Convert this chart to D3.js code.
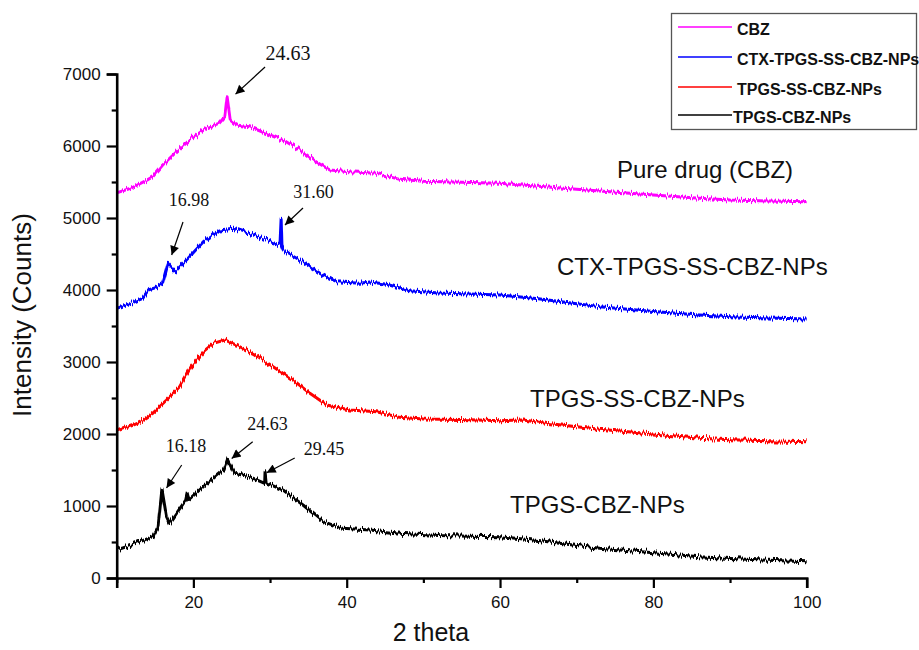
<!DOCTYPE html>
<html><head><meta charset="utf-8">
<script src="https://cdn.jsdelivr.net/npm/d3@7"></script>
<style>
body{margin:0;background:#fff;}
svg{display:block;}
</style></head>
<body>
<svg id="chart" width="919" height="650"></svg>
<script>
// ---- data ----
const cbzTheta  = [10,12,14,14.7,16,17.8,19.5,21.7,23.4,24.1,24.4,24.8,25.6,27.3,30,32.1,33.9,36,37.8,40.4,43.9,46.9,50,55,60,65,70,73,80,86,90,95,100];
const cbzCounts = [5350,5420,5530,5574,5736,5920,6083,6250,6319,6407,6685,6361,6292,6268,6153,6060,5944,5782,5667,5643,5620,5537,5510,5495,5481,5440,5400,5375,5320,5273,5250,5235,5226];

const ctxTheta  = [10,12,13.4,14.1,15,16,16.4,16.7,17.6,18.5,19.5,21.3,23.4,25.2,27.3,30,31.3,31.45,31.55,31.7,31.9,33.9,36.5,38.7,41.7,43,45.2,48.2,52,56,60,65,70,73,80,86,90,95,100];
const ctxCounts = [3745,3820,3884,4000,4030,4093,4250,4370,4254,4350,4462,4671,4833,4857,4787,4671,4625,4981,4600,4560,4532,4417,4231,4115,4093,4110,4080,3990,3960,3945,3931,3880,3810,3769,3700,3653,3630,3610,3597];

const ssTheta   = [10,12,13.4,14.7,16.5,18.2,19.7,21.3,22.6,24.1,25.6,27.8,30.4,33,35.2,37.4,40.4,43.9,46.9,50,55,60,63,66,70,73,80,86,90,95,100];
const ssCounts  = [2056,2130,2194,2287,2472,2657,2935,3143,3259,3306,3236,3121,2935,2750,2565,2403,2333,2310,2231,2210,2200,2185,2195,2150,2100,2065,2000,1940,1920,1905,1893];

const npTheta   = [10,12,14.7,15.4,15.9,16.5,16.9,17.8,19.0,19.2,19.4,21.3,23.4,24.0,24.5,25.4,27.3,29.3,29.35,29.5,31.7,34.3,36.9,39.5,43,47,52,56,60,65,70,73,80,86,90,95,100];
const npCounts  = [389,460,574,713,1231,851,759,898,1083,1180,1090,1268,1454,1500,1648,1454,1407,1315,1476,1320,1222,1014,782,690,667,620,590,580,574,520,450,412,350,296,270,245,227];

const seriesNames  = ["CBZ","CTX-TPGS-SS-CBZ-NPs","TPGS-SS-CBZ-NPs","TPGS-CBZ-NPs"];
const seriesLabels = ["Pure drug (CBZ)","CTX-TPGS-SS-CBZ-NPs","TPGS-SS-CBZ-NPs","TPGS-CBZ-NPs"];
const seriesColors = ["#ff00ff","#0000ff","#ff0000","#000000"];

const xMajor = [20,40,60,80,100];
const xMinor = [10,30,50,70,90];
const yMajor = [0,1000,2000,3000,4000,5000,6000,7000];
const yMinor = [500,1500,2500,3500,4500,5500,6500];

// peak annotations: label, text anchor (theta,counts), arrow start, arrow tip
const peakLabels = ["24.63","16.98","31.60","16.18","24.63","29.45"];
const peakText   = [[32.35,7194],[19.43,5167],[35.67,5278],[19.04,1750],[29.67,2056],[37.04,1708]];
const peakFrom   = [[29.35,7097],[18.65,4944],[34.3,5139],[18.48,1569],[27.74,1893],[33.22,1667]];
const peakTo     = [[25.5,6720],[17.17,4486],[31.95,4903],[16.5,1250],[25.0,1660],[29.56,1463]];

const SANS = "'Liberation Sans',Arial,sans-serif";
const SERIF = "'Liberation Serif','Times New Roman',serif";

// ---- chart ----
const svg = d3.select("#chart");
const x = d3.scaleLinear().domain([10,100]).range([116.7,806.7]);
const y = d3.scaleLinear().domain([0,7000]).range([578,74]);

const defs = svg.append("defs");
// detector-noise look (rendering texture only)
const flt = defs.append("filter").attr("id","grain")
  .attr("x","-2%").attr("y","-15%").attr("width","104%").attr("height","130%")
  .attr("color-interpolation-filters","sRGB");
flt.append("feTurbulence").attr("type","fractalNoise").attr("baseFrequency","0.8 0.01")
  .attr("numOctaves",1).attr("seed",7).attr("result","t");
flt.append("feColorMatrix").attr("in","t").attr("type","matrix")
  .attr("values","0 0 0 0 0.5  0 1 0 0 0  0 0 0 0 0  0 0 0 0 1").attr("result","m");
flt.append("feDisplacementMap").attr("in","SourceGraphic").attr("in2","m")
  .attr("scale",9).attr("xChannelSelector","R").attr("yChannelSelector","G");

defs.append("marker").attr("id","ah").attr("viewBox","0 0 10 10").attr("refX",10).attr("refY",5)
  .attr("markerWidth",12).attr("markerHeight",9).attr("markerUnits","userSpaceOnUse").attr("orient","auto")
  .append("path").attr("d","M0,0 L10,5 L0,10 Z").attr("fill","#000");

const series = [
  {t:cbzTheta,c:cbzCounts},
  {t:ctxTheta,c:ctxCounts},
  {t:ssTheta,c:ssCounts},
  {t:npTheta,c:npCounts}
];
const line = d3.line().x(d=>x(d[0])).y(d=>y(d[1]));
series.forEach((s,i)=>{
  const pts = s.t.map((t,j)=>[t,s.c[j]]);
  svg.append("path").datum(pts).attr("d",line)
    .attr("fill","none").attr("stroke",seriesColors[i])
    .attr("stroke-width",3).attr("stroke-linejoin","round")
    .attr("filter","url(#grain)");
});

// axes
const gx = svg.append("g").attr("transform","translate(0,578)");
gx.call(d3.axisBottom(x).tickValues(xMajor).tickSize(10).tickPadding(8).tickFormat(d3.format("d")));
const gxm = svg.append("g").attr("transform","translate(0,578)");
gxm.call(d3.axisBottom(x).tickValues(xMinor).tickSize(5).tickFormat(""));
const gy = svg.append("g").attr("transform","translate(116.7,0)");
gy.call(d3.axisLeft(y).tickValues(yMajor).tickSize(10).tickPadding(6).tickFormat(d3.format("d")));
const gym = svg.append("g").attr("transform","translate(116.7,0)");
gym.call(d3.axisLeft(y).tickValues(yMinor).tickSize(5).tickFormat(""));
[gx,gxm,gy,gym].forEach(g=>{
  g.select(".domain").attr("stroke","#000").attr("stroke-width",2.6);
  g.selectAll(".tick line").attr("stroke","#000").attr("stroke-width",2.2);
  g.selectAll(".tick text").attr("font-size",17).attr("fill","#111").style("font-family",SANS);
});
gxm.select(".domain").remove(); gym.select(".domain").remove();

// axis titles
svg.append("text").attr("x",431).attr("y",641).attr("text-anchor","middle")
  .attr("font-size",25).attr("fill","#111").style("font-family",SANS).text("2 theta");
svg.append("text").attr("transform","translate(31,315) rotate(-90)").attr("text-anchor","middle")
  .attr("font-size",26).attr("fill","#111").style("font-family",SANS).text("Intensity (Counts)");

// series labels
const labelPos = [[617,178],[557,275],[530,407],[510,513]];
seriesLabels.forEach((l,i)=>{
  svg.append("text").attr("x",labelPos[i][0]).attr("y",labelPos[i][1])
    .attr("font-size",24).attr("fill","#111").style("font-family",SANS).text(l);
});

// peak annotations
peakLabels.forEach((l,i)=>{
  svg.append("text").attr("x",x(peakText[i][0])).attr("y",y(peakText[i][1]))
    .attr("text-anchor","middle").attr("font-size",i===0?20:18)
    .style("font-family",SERIF).attr("fill","#111").text(l);
  svg.append("line").attr("x1",x(peakFrom[i][0])).attr("y1",y(peakFrom[i][1]))
    .attr("x2",x(peakTo[i][0])).attr("y2",y(peakTo[i][1]))
    .attr("stroke","#000").attr("stroke-width",1.2).attr("marker-end","url(#ah)");
});

// legend
const lg = svg.append("g");
lg.append("rect").attr("x",671.5).attr("y",13.5).attr("width",245).attr("height",116)
  .attr("fill","#fff").attr("stroke","#555").attr("stroke-width",1.3);
const legY = [27,57,87,115];
seriesNames.forEach((n,i)=>{
  lg.append("line").attr("x1",678).attr("x2",732).attr("y1",legY[i]).attr("y2",legY[i])
    .attr("stroke",seriesColors[i]).attr("stroke-width",1.3);
  lg.append("text").attr("x",i===3?733:737).attr("y",legY[i]+8)
    .attr("font-size",16).attr("font-weight","bold").attr("fill","#111").style("font-family",SANS).text(n);
});
</script>
</body></html>
